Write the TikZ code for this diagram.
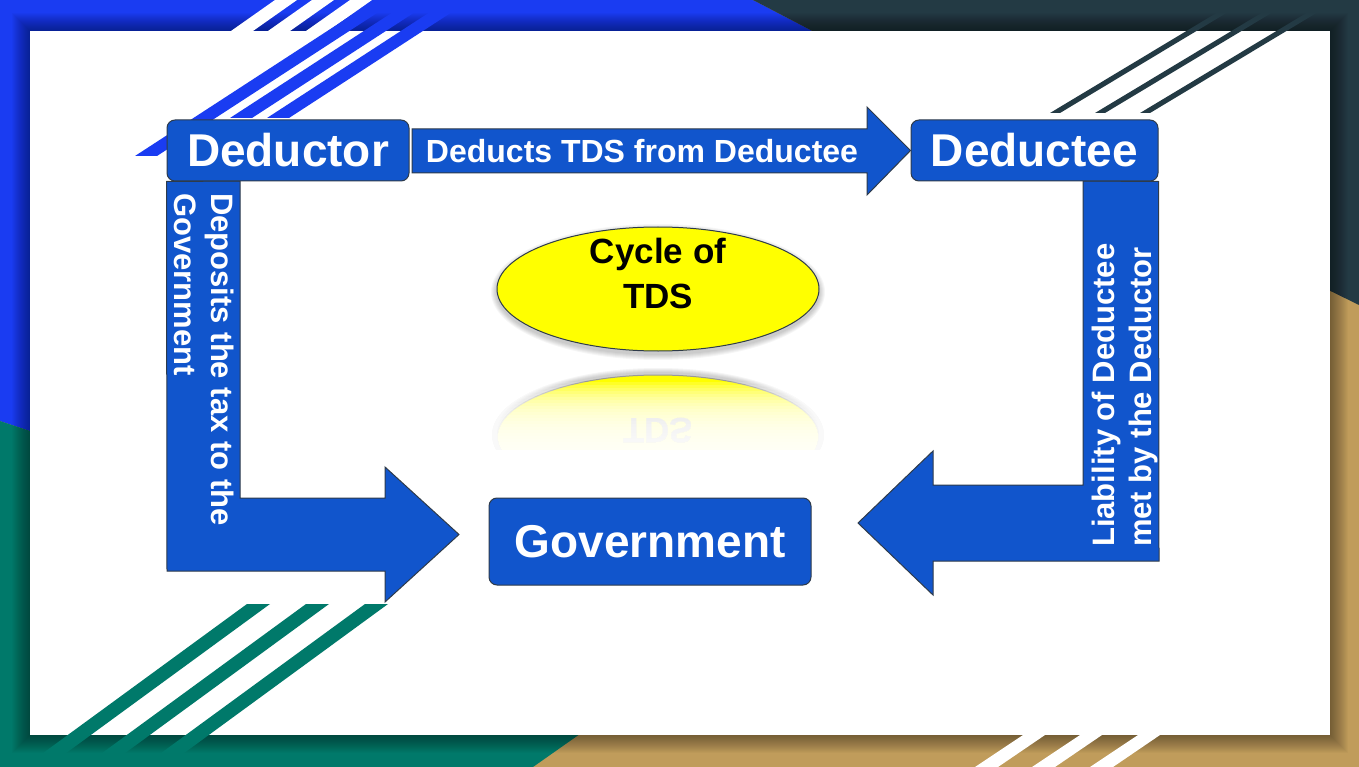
\documentclass[tikz,border=0pt]{standalone}
\usepackage{fontspec}
\setmainfont{Liberation Sans}
\usetikzlibrary{shapes.geometric}

\definecolor{boxblue}{HTML}{1155CC}
\definecolor{edgegray}{HTML}{2E3B4A}
\definecolor{cycleyellow}{RGB}{255,255,0}
\definecolor{frameblue}{HTML}{1A3CF2}
\definecolor{frameslate}{HTML}{233A44}
\definecolor{frameteal}{HTML}{00796A}
\definecolor{frametan}{HTML}{C09C5B}

\newcommand{\partyfont}{\fontsize{46}{50}\selectfont\bfseries}
\newcommand{\flowfont}{\fontsize{31}{37}\selectfont\bfseries}
\newcommand{\cyclefont}{\fontsize{35}{45}\selectfont\bfseries}

\pgfdeclarelayer{frame}
\pgfdeclarelayer{arrows}
\pgfsetlayers{frame,arrows,main}

\tikzset{
  partybox/.style={draw=edgegray, fill=boxblue, line width=1pt, rounded corners=8pt, text=white, font=\partyfont},
  flowarrow/.style={draw=edgegray, fill=boxblue, line width=1pt},
  flowlabel/.style={text=white, font=\flowfont, align=left, inner sep=0pt}
}

\begin{document}
\begin{tikzpicture}[x=1pt,y=-1pt]
\useasboundingbox (0,0) rectangle (1359,767);

% boxes
\node[partybox, minimum width=242pt, minimum height=61pt] (deductor) at (288,150.5) {Deductor};
\node[partybox, minimum width=247pt, minimum height=61pt] (deductee) at (1034.5,150.5) {Deductee};
\node[partybox, minimum width=322pt, minimum height=87pt] (govt) at (650,541.5) {Government};
\node[ellipse, draw=edgegray, fill=cycleyellow, line width=1pt, minimum width=322pt, minimum height=124pt] (cycle) at (658,289) {};
\node[font=\cyclefont, align=center, inner sep=0pt] (cyclelabel) at (658,273) {Cycle of\\TDS};

% block arrows
\begin{pgfonlayer}{arrows}
\draw[flowarrow] (412,129) -- (867,129) -- (867,107) -- (deductee.west) -- (867,195) -- (867,173) -- (412,173) -- cycle;
\draw[flowarrow] (deductor.south west) -- (240,181) -- (240,498) -- (385,498) -- (385,467) -- (459,534.5) -- (385,602) -- (385,571) -- (167,571) -- cycle;
\draw[flowarrow] (1083,181) -- (deductee.south east) -- (1159,561) -- (933,561) -- (933,595) -- (858,523) -- (933,451) -- (933,485) -- (1083,485) -- cycle;
\foreach \d in {1,...,6}
  \fill[black, opacity=0.035] (658,292) ellipse [x radius=161+\d, y radius=62+\d];
\end{pgfonlayer}

\node[flowlabel, font=\fontsize{32}{37}\selectfont\bfseries] (deducts) at (642,151) {Deducts TDS from Deductee};
\node[flowlabel, rotate=-90, anchor=west] (deposits) at (204,193) {Deposits the tax to the\\Government};
\node[flowlabel, rotate=90, anchor=west] (liability) at (1125,547) {Liability of Deductee\\met by the Deductor};

% reflection of the ellipse
\begin{scope}
  \clip (490,363) rectangle (826,449);
  \foreach \d in {1,...,5}
    \fill[black, opacity=0.04] (658,435) ellipse [x radius=161+\d, y radius=62+\d];
  \filldraw[fill=cycleyellow, draw=gray!80, line width=1pt] (658,437) ellipse [x radius=161, y radius=62];
\end{scope}
\begin{scope}[shift={(658,418)}, yscale=-1]
  \node[font=\cyclefont, text=gray!85, anchor=base, inner sep=0pt, transform shape] (cyclemirror) at (0,0) {TDS};
\end{scope}
\foreach \i in {0,...,23}
  \fill[white, opacity=0.15] (488,382+3*\i) rectangle (828,452);

% frame
\begin{pgfonlayer}{frame}
\fill[frametan] (0,0) rectangle (1359,767);
\fill[frameblue] (0,0) -- (753,0) -- (1000,129) -- (695,653) -- (0,421) -- cycle;
\fill[frameslate] (753,0) -- (1359,0) -- (1359,305) -- (1000,129) -- cycle;
\fill[frameteal] (0,421) -- (695,653) -- (533,767) -- (0,767) -- cycle;
\foreach \d in {1,...,18}
  \fill[black, opacity=0.022] (30-\d,31-\d) rectangle (1330+\d,735+\d);
\fill[white] (30,31) rectangle (1330,735);
% stripes
\foreach \s in {0,37,75}
  \fill[white] (275+\s,0) -- (297+\s,0) -- (253+\s,31) -- (231+\s,31) -- cycle;
\fill[frameblue] (375,0) -- (397,0) -- (157,156) -- (135,156) -- cycle;
\foreach \s in {0,37}
  \fill[frameblue] (411.5+\s,0) -- (433.5+\s,0) -- (252+\s,118) -- (230+\s,118) -- cycle;
\foreach \s in {0,45,90}
  \fill[frameslate] (1238+\s,0) -- (1248+\s,0) -- (1060+\s,113) -- (1050+\s,113) -- cycle;
\foreach \s in {0,59,118}
  \fill[frameteal] (247+\s,604) -- (270+\s,604) -- (47+\s,767) -- (24+\s,767) -- cycle;
\foreach \s in {0,57,115}
  \fill[white] (1023+\s,735) -- (1045+\s,735) -- (998+\s,767) -- (975+\s,767) -- cycle;
\end{pgfonlayer}
\end{tikzpicture}
\end{document}
